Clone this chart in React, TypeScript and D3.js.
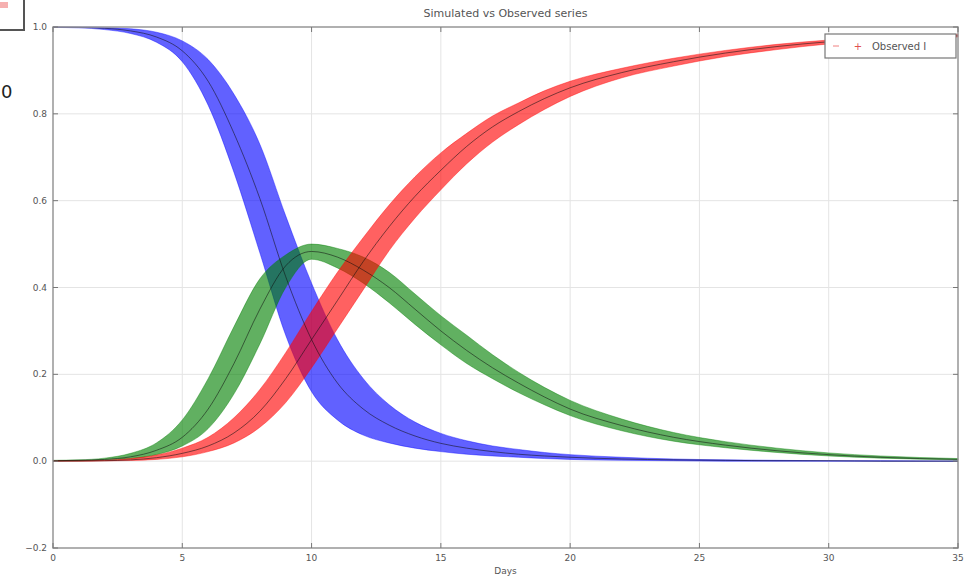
import React, { useEffect, useRef } from 'react';
import * as d3 from 'd3';

// values (fractions of population)
const days = [0, 1, 2, 3, 4, 5, 6, 7, 8, 9, 10, 11, 12, 13, 14, 15, 16, 17, 18, 19, 20, 22, 24, 26, 28, 30, 32, 35];

const sMean = [1.0, 0.999, 0.997, 0.991, 0.977, 0.945, 0.875, 0.755, 0.605, 0.425, 0.28, 0.18, 0.12, 0.083, 0.058, 0.041, 0.03, 0.022, 0.016, 0.012, 0.009, 0.005, 0.003, 0.002, 0.001, 0.001, 0.0, 0.0];
const sHigh = [1.0, 1.0, 0.999, 0.996, 0.988, 0.968, 0.925, 0.845, 0.73, 0.565, 0.41, 0.28, 0.19, 0.13, 0.09, 0.064, 0.047, 0.035, 0.027, 0.02, 0.015, 0.009, 0.005, 0.003, 0.002, 0.001, 0.001, 0.0];
const sLow = [0.999, 0.998, 0.994, 0.985, 0.965, 0.92, 0.82, 0.665, 0.48, 0.29, 0.16, 0.095, 0.06, 0.042, 0.03, 0.022, 0.016, 0.012, 0.009, 0.006, 0.004, 0.002, 0.001, 0.0, 0.0, 0.0, 0.0, 0.0];

const iMean = [0.001, 0.002, 0.004, 0.01, 0.025, 0.055, 0.12, 0.225, 0.35, 0.45, 0.483, 0.47, 0.44, 0.4, 0.35, 0.3, 0.255, 0.215, 0.18, 0.148, 0.12, 0.082, 0.055, 0.037, 0.024, 0.015, 0.009, 0.004];
const iHigh = [0.002, 0.003, 0.007, 0.018, 0.042, 0.095, 0.19, 0.31, 0.42, 0.475, 0.5, 0.49, 0.47, 0.435, 0.385, 0.335, 0.29, 0.245, 0.205, 0.17, 0.14, 0.097, 0.066, 0.045, 0.03, 0.019, 0.012, 0.006];
const iLow = [0.001, 0.001, 0.003, 0.006, 0.015, 0.035, 0.075, 0.155, 0.27, 0.4, 0.465, 0.445, 0.41, 0.365, 0.315, 0.268, 0.225, 0.19, 0.158, 0.13, 0.105, 0.07, 0.046, 0.031, 0.02, 0.012, 0.007, 0.003];

const rMean = [0, 0.0005, 0.001, 0.003, 0.008, 0.018, 0.035, 0.065, 0.115, 0.19, 0.28, 0.37, 0.46, 0.54, 0.61, 0.67, 0.725, 0.77, 0.805, 0.835, 0.86, 0.895, 0.92, 0.94, 0.955, 0.966, 0.973, 0.98];
const rHigh = [0.001, 0.001, 0.002, 0.006, 0.014, 0.03, 0.055, 0.1, 0.165, 0.25, 0.345, 0.435, 0.515, 0.59, 0.655, 0.71, 0.755, 0.795, 0.825, 0.853, 0.875, 0.905, 0.928, 0.946, 0.96, 0.97, 0.977, 0.983];
const rLow = [0, 0, 0.0005, 0.0015, 0.004, 0.01, 0.022, 0.042, 0.078, 0.135, 0.215, 0.305, 0.395, 0.485, 0.56, 0.625, 0.685, 0.735, 0.775, 0.81, 0.84, 0.883, 0.91, 0.932, 0.948, 0.961, 0.969, 0.977];

const xTicks = [0, 5, 10, 15, 20, 25, 30, 35];
const yTicks = [-0.2, 0.0, 0.2, 0.4, 0.6, 0.8, 1.0];

const series = [
  { name: 'S', color: '#0000ff', mean: sMean, low: sLow, high: sHigh },
  { name: 'I', color: '#008000', mean: iMean, low: iLow, high: iHigh },
  { name: 'R', color: '#ff0000', mean: rMean, low: rLow, high: rHigh },
];

export default function App() {
  const ref = useRef<SVGSVGElement>(null);

  useEffect(() => {
    const svg = d3.select(ref.current);
    svg.selectAll('*').remove();

    const width = 980;
    const height = 577;
    const margin = { top: 27, left: 53, bottom: 29, right: 22 };

    const x = d3.scaleLinear().domain([0, 35]).range([margin.left, width - margin.right]);
    const y = d3.scaleLinear().domain([-0.2, 1.0]).range([height - margin.bottom, margin.top]);

    // grid
    const grid = svg.append('g');
    grid.selectAll('line.gx').data(xTicks).enter().append('line')
      .attr('x1', d => x(d)).attr('x2', d => x(d))
      .attr('y1', y(-0.2)).attr('y2', y(1.0))
      .attr('stroke', '#e4e4e4').attr('stroke-width', 1);
    grid.selectAll('line.gy').data(yTicks).enter().append('line')
      .attr('x1', x(0)).attr('x2', x(35))
      .attr('y1', d => y(d)).attr('y2', d => y(d))
      .attr('stroke', '#e4e4e4').attr('stroke-width', 1);

    const idx = days.map((_, i) => i);

    series.forEach(s => {
      const area = d3.area<number>()
        .x(i => x(days[i]))
        .y0(i => y(s.low[i]))
        .y1(i => y(s.high[i]))
        .curve(d3.curveMonotoneX);
      svg.append('path')
        .attr('d', area(idx))
        .attr('fill', s.color)
        .attr('fill-opacity', 0.62)
        .attr('stroke', s.color)
        .attr('stroke-opacity', 0.5)
        .attr('stroke-width', 0.8);
    });

    series.forEach(s => {
      const line = d3.line<number>()
        .x(i => x(days[i]))
        .y(i => y(s.mean[i]))
        .curve(d3.curveMonotoneX);
      svg.append('path')
        .attr('d', line(idx))
        .attr('fill', 'none')
        .attr('stroke', '#111')
        .attr('stroke-opacity', 0.55)
        .attr('stroke-width', 1);
    });

    // frame
    svg.append('rect')
      .attr('x', x(0)).attr('y', y(1.0))
      .attr('width', x(35) - x(0)).attr('height', y(-0.2) - y(1.0))
      .attr('fill', 'none').attr('stroke', '#9a9a9a').attr('stroke-width', 1.5);

    // ticks (inward, matplotlib style)
    const tk = svg.append('g').attr('stroke', '#777');
    xTicks.forEach(t => {
      tk.append('line').attr('x1', x(t)).attr('x2', x(t)).attr('y1', y(-0.2)).attr('y2', y(-0.2) - 5);
      tk.append('line').attr('x1', x(t)).attr('x2', x(t)).attr('y1', y(1.0)).attr('y2', y(1.0) + 5);
    });
    yTicks.forEach(t => {
      tk.append('line').attr('x1', x(0)).attr('x2', x(0) + 5).attr('y1', y(t)).attr('y2', y(t));
      tk.append('line').attr('x1', x(35)).attr('x2', x(35) - 5).attr('y1', y(t)).attr('y2', y(t));
    });

    const fmt = d3.format('.1f');
    svg.append('g').selectAll('text').data(xTicks).enter().append('text')
      .attr('x', d => x(d)).attr('y', y(-0.2) + 13)
      .attr('text-anchor', 'middle')
      .attr('font-family', 'DejaVu Sans, sans-serif').attr('font-size', 9).attr('fill', '#555')
      .text(d => d);
    svg.append('g').selectAll('text').data(yTicks).enter().append('text')
      .attr('x', x(0) - 6).attr('y', d => y(d) + 3)
      .attr('text-anchor', 'end')
      .attr('font-family', 'DejaVu Sans, sans-serif').attr('font-size', 9).attr('fill', '#555')
      .text(d => fmt(d).replace('-', '\u2212'));

    svg.append('text')
      .attr('x', (x(0) + x(35)) / 2).attr('y', 17)
      .attr('text-anchor', 'middle')
      .attr('font-family', 'DejaVu Sans, sans-serif').attr('font-size', 11).attr('fill', '#555')
      .text('Simulated vs Observed series');

    svg.append('text')
      .attr('x', (x(0) + x(35)) / 2).attr('y', 574)
      .attr('text-anchor', 'middle')
      .attr('font-family', 'DejaVu Sans, sans-serif').attr('font-size', 9).attr('fill', '#555')
      .text('Days');

    // legend
    const lg = svg.append('g').attr('transform', 'translate(825,34)');
    lg.append('rect').attr('width', 131).attr('height', 24)
      .attr('fill', '#fff').attr('stroke', '#777').attr('stroke-width', 1.2);
    lg.append('line').attr('x1', 8).attr('x2', 14).attr('y1', 12).attr('y2', 12)
      .attr('stroke', '#f08080').attr('stroke-width', 1);
    lg.append('text').attr('x', 33).attr('y', 16)
      .attr('text-anchor', 'middle')
      .attr('font-family', 'DejaVu Sans, sans-serif').attr('font-size', 10).attr('fill', '#e05050')
      .text('+');
    lg.append('text').attr('x', 47).attr('y', 16)
      .attr('font-family', 'DejaVu Sans, sans-serif').attr('font-size', 10).attr('fill', '#555')
      .text('Observed I');

    // cropped bits of the neighbouring figure at the left edge
    svg.append('rect').attr('x', -4).attr('y', -4).attr('width', 28).attr('height', 34)
      .attr('fill', '#fff').attr('stroke', '#555').attr('stroke-width', 2);
    svg.append('rect').attr('x', 0).attr('y', 2).attr('width', 8).attr('height', 6)
      .attr('fill', '#f6b0b0');
    svg.append('text').attr('x', 1).attr('y', 98)
      .attr('font-family', 'DejaVu Sans, sans-serif').attr('font-size', 18).attr('fill', '#222')
      .text('0');
  }, []);

  return (
    <svg ref={ref} width={980} height={577}
      style={{ position: 'absolute', left: 0, top: 0, background: '#fff' }} />
  );
}
